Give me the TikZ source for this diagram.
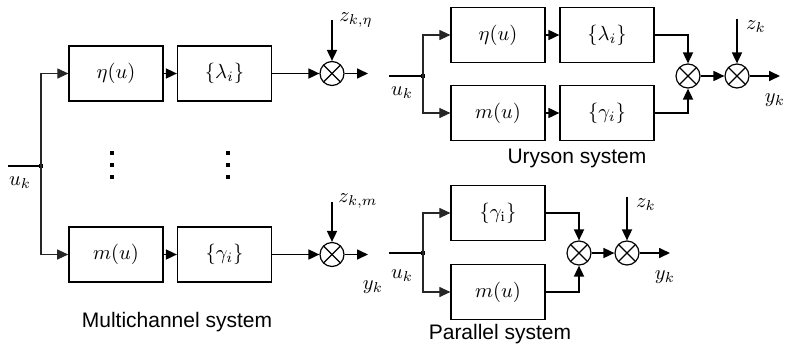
\documentclass[tikz,border=0pt]{standalone}
\usepackage{graphicx}
\usepackage{fontspec}
\newfontfamily\capfont{Liberation Sans}
\usetikzlibrary{arrows.meta}
\newcommand\M[1]{\scalebox{2.05}{$#1$}}
\tikzset{
  blk/.style={draw, line width=1.2pt, minimum width=94pt, minimum height=55pt, inner sep=0pt},
  sumc/.style={draw, circle, line width=1.2pt, minimum size=24pt, inner sep=0pt,
     path picture={\draw[line width=1.1pt] (path picture bounding box.north west) -- (path picture bounding box.south east)
                   (path picture bounding box.north east) -- (path picture bounding box.south west);}},
  arr/.style={-{Triangle[length=11pt,width=10pt]}, line width=1.7pt},
  brarr/.style={-{Triangle[length=11pt,width=10pt]}, line width=1.1pt, black!85},
  lbl/.style={inner sep=0pt},
  captxt/.style={inner sep=0pt, font=\fontsize{21}{25}\capfont},
  jdot/.style={fill, rectangle, minimum size=4pt, inner sep=0pt},
  vdot/.style={fill, rectangle, minimum size=3.5pt, inner sep=0pt},
}
\begin{document}
\begin{tikzpicture}[x=1pt,y=-1pt]
\useasboundingbox (0,0) rectangle (786,346);

% ---------------- Multichannel system ----------------
\coordinate (in1) at (8,166);
\node[jdot] (j1) at (41,166) {};
\node[blk] (eta1) at (116,73.5) {\M{\eta(u)}};
\node[blk] (lam1) at (224.5,73.5) {\M{\{\lambda_i\}}};
\node[sumc] (s1) at (332,73.5) {};
\coordinate (o1) at (368,73.5);
\coordinate (zt1) at (332,20);
\node[lbl] (zl1) at (356,20) {\M{z_{k,\eta}}};

\node[blk, line width=1.6pt] (m1) at (116,254.5) {\M{m(u)}};
\node[blk] (gam1) at (224.5,254.5) {\M{\{\gamma_i\}}};
\node[sumc] (s2) at (332,254.5) {};
\coordinate (o2) at (368,254.5);
\coordinate (zt2) at (332,202);
\node[lbl] (zl2) at (358,201) {\M{z_{k,m}}};

\node[lbl] (uk1) at (20,183) {\M{u_k}};
\node[lbl] (yk1) at (373,287) {\M{y_k}};

\foreach \yy [count=\n] in {153,165,177}{
  \node[vdot] (da\n) at (112,\yy) {};
  \node[vdot] (db\n) at (228,\yy) {};
}

\draw[line width=1.7pt] (in1) -- (j1.center);
\draw[brarr] (j1.center) |- (eta1.west);
\draw[brarr] (j1.center) |- (m1.west);
\draw[arr] (eta1) -- (lam1);
\draw[arr] (m1) -- (gam1);
\draw[arr] (lam1) -- (s1);
\draw[arr] (gam1) -- (s2);
\draw[arr] (zt1) -- (s1.north);
\draw[arr] (zt2) -- (s2.north);
\draw[arr] (s1.east) -- (o1);
\draw[arr] (s2.east) -- (o2);

\node[captxt] (c1cap) at (177,322) {Multichannel system};

% ---------------- Uryson system ----------------
\coordinate (in2) at (389,76);
\node[jdot] (j2) at (423,76) {};
\node[blk] (eta2) at (498,35) {\M{\eta(u)}};
\node[blk] (lam2) at (607,35) {\M{\{\lambda_i\}}};
\node[blk] (m2) at (498,113) {\M{m(u)}};
\node[blk] (gam2) at (607,113) {\M{\{\gamma_i\}}};
\node[sumc] (u1) at (688,76) {};
\node[sumc] (u2) at (737,76) {};
\coordinate (zt3) at (737,19);
\coordinate (o3) at (780,76);
\node[lbl] (zl3) at (756,27) {\M{z_k}};
\node[lbl] (yk2) at (775,100) {\M{y_k}};
\node[lbl] (uk2) at (402,93) {\M{u_k}};

\draw[line width=1.7pt] (in2) -- (j2.center);
\draw[brarr] (j2.center) |- (eta2.west);
\draw[brarr] (j2.center) |- (m2.west);
\draw[arr] (eta2) -- (lam2);
\draw[arr] (m2) -- (gam2);
\draw[arr] (lam2.east) -| (u1.north);
\draw[arr] (gam2.east) -| (u1.south);
\draw[arr] (u1) -- (u2);
\draw[arr] (zt3) -- (u2.north);
\draw[arr] (u2.east) -- (o3);

\node[captxt] (c2cap) at (577,158) {Uryson system};

% ---------------- Parallel system ----------------
\coordinate (in3) at (389,253);
\node[jdot] (j3) at (423,253) {};
\node[blk] (gam3) at (498,213) {\M{\{\gamma_{\mathrm{i}}\}}};
\node[blk] (m3) at (498,292) {\M{m(u)}};
\node[sumc] (p1) at (579,253) {};
\node[sumc] (p2) at (627,253) {};
\coordinate (zt4) at (627,197);
\coordinate (o4) at (670,253);
\node[lbl] (zl4) at (646,205) {\M{z_k}};
\node[lbl] (yk3) at (665,277) {\M{y_k}};
\node[lbl] (uk3) at (402,276) {\M{u_k}};

\draw[line width=1.7pt] (in3) -- (j3.center);
\draw[brarr] (j3.center) |- (gam3.west);
\draw[brarr] (j3.center) |- (m3.west);
\draw[arr] (gam3.east) -| (p1.north);
\draw[arr] (m3.east) -| (p1.south);
\draw[arr] (p1) -- (p2);
\draw[arr] (zt4) -- (p2.north);
\draw[arr] (p2.east) -- (o4);

\node[captxt] (c3cap) at (500,334) {Parallel system};
\end{tikzpicture}
\end{document}
